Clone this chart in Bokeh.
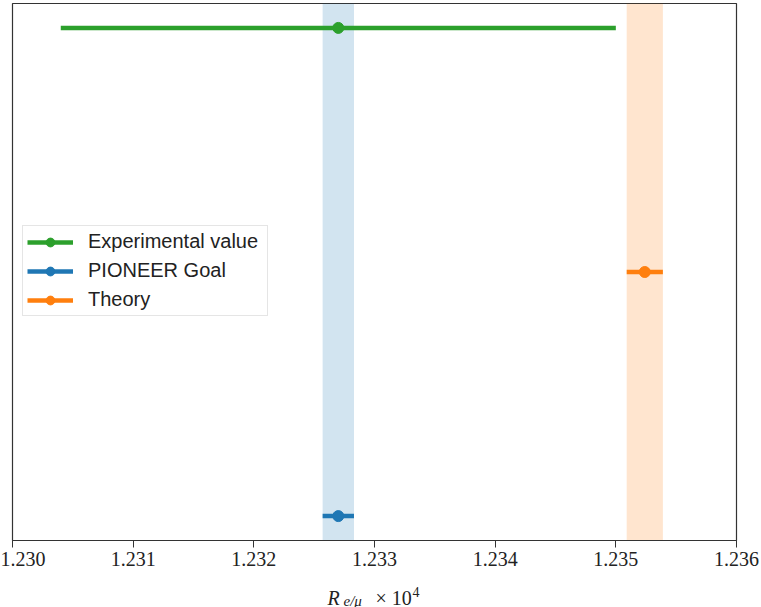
from bokeh.plotting import figure
from bokeh.models import (Range1d, FixedTicker, PrintfTickFormatter, BoxAnnotation,
                          Legend, LegendItem, Label)
from bokeh.embed import file_html
from bokeh.resources import INLINE

# ---- data ----
names = ["Experimental value", "PIONEER Goal", "Theory"]
values = [1.2327, 1.2327, 1.23524]
errors = [0.0023, 0.00013, 0.00015]
ypos = [2, 0, 1]
colors = ["#2ca02c", "#1f77b4", "#ff7f0e"]
band_names = ["PIONEER Goal", "Theory"]
x_ticks = [1.230, 1.231, 1.232, 1.233, 1.234, 1.235, 1.236]

p = figure(width=761, height=607, output_backend="svg", toolbar_location=None,
           x_range=Range1d(1.230, 1.236), y_range=Range1d(-0.1, 2.1),
           min_border_left=12, min_border_right=25, min_border_top=3,
           min_border_bottom=67)
p.background_fill_color = "white"
p.border_fill_color = "white"
p.outline_line_color = "#333333"
p.outline_line_width = 1.2
p.xgrid.visible = False
p.ygrid.visible = False
p.yaxis.visible = False

ax = p.xaxis[0]
ax.ticker = FixedTicker(ticks=x_ticks)
ax.formatter = PrintfTickFormatter(format="%.3f")
ax.major_label_text_font = "Liberation Serif"
ax.major_label_text_font_size = "20px"
ax.major_label_text_color = "#222222"
ax.major_tick_out = 7
ax.major_tick_in = 0
ax.minor_tick_out = 0
ax.minor_tick_in = 0
ax.major_label_standoff = 4
ax.axis_line_color = "#333333"
ax.major_tick_line_color = "#333333"

# bands
for bn in band_names:
    i = names.index(bn)
    p.add_layout(BoxAnnotation(left=values[i] - errors[i], right=values[i] + errors[i],
                               fill_color=colors[i], fill_alpha=0.2, line_alpha=0,
                               level="underlay"))

items = []
for i, n in enumerate(names):
    seg = p.segment(x0=[values[i] - errors[i]], x1=[values[i] + errors[i]],
                    y0=[ypos[i]], y1=[ypos[i]], line_color=colors[i], line_width=4.5)
    dot = p.scatter(x=[values[i]], y=[ypos[i]], size=11, color=colors[i])
    items.append(LegendItem(label=n, renderers=[seg, dot]))

legend = Legend(items=items, location=(10, 224), label_text_font="Liberation Sans",
                label_text_font_size="20px", label_text_color="#222222",
                glyph_width=46, glyph_height=22, label_height=22, spacing=6,
                padding=4, margin=0, border_line_color="#cccccc",
                border_line_width=1, background_fill_alpha=0.8,
                label_standoff=15, label_width=175)
p.add_layout(legend, "center")

# x-axis label: R_{e/mu} x 10^4  (pieces placed in canvas pixels; small side panels)
lab_font = "Liberation Serif"
parts = [
    ("R", 327, 597, "20px", "italic", "right"),
    ("4", 412, 591, "14px", "normal", "right"),
    ("\u00d7 10", 375, 597, "20px", "normal", "below"),
    ("e/\u03bc", 343, 600, "15px", "italic", "below"),
]
for t, x, y, fs, st, side in parts:
    p.add_layout(Label(x=x, y=y, x_units="canvas", y_units="canvas", text=t,
                       text_font=lab_font, text_font_size=fs, text_font_style=st,
                       text_color="#222222", text_baseline="alphabetic",
                       text_align="left"), side)

open("out.html", "w").write(file_html(p, INLINE))
